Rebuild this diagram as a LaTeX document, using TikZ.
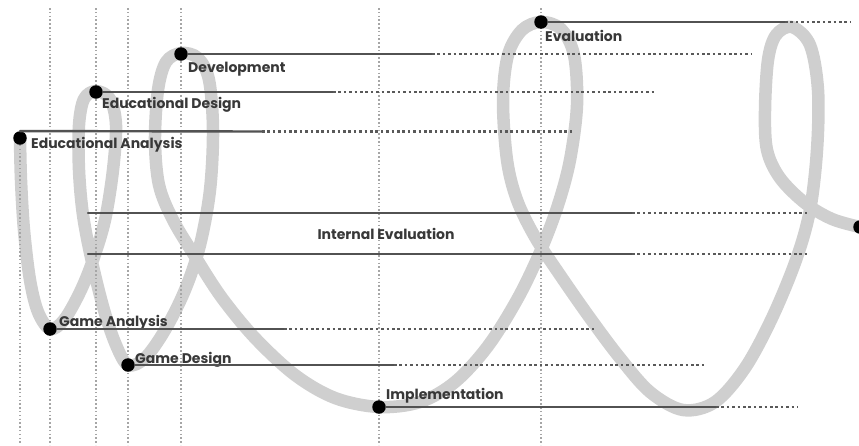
\documentclass[tikz,border=0pt]{standalone}
\usepackage{fontspec}
\setmainfont{Poppins}
\usetikzlibrary{backgrounds}

\tikzset{
  dot/.style={circle,fill=black,inner sep=0pt,minimum size=13.5pt},
  lbl/.style={font=\bfseries\fontsize{14}{16}\selectfont,text=black!78,inner sep=0pt,anchor=base west},
  solidline/.style={draw=black!68,line width=2.4pt},
  dotline/.style={draw=black!65,line width=2.6pt,line cap=butt,dash pattern=on 2.6pt off 2.8pt},
  guide/.style={draw=black!35,line width=1.5pt,line cap=butt,dash pattern=on 1.5pt off 2.3pt},
  ribbon/.style={draw=black!19,line width=12.5pt,line cap=round,line join=round}
}

\begin{document}
\begin{tikzpicture}[x=1pt,y=-1pt,line cap=round,line join=round]
\useasboundingbox (0,0) rectangle (859,445);

% stages along the ribbon
\node[dot] (ea) at (20,138) {};
\node[dot] (ga) at (50,329) {};
\node[dot] (ed) at (96,92) {};
\node[dot] (gd) at (128,365) {};
\node[dot] (dev) at (181,54) {};
\node[dot] (impl) at (379,407) {};
\node[dot] (eval) at (541,22) {};
\node[dot] (fin) at (860,227) {};

\node[lbl] (ea-l) at (31,148) {Educational Analysis};
\node[lbl] (ed-l) at (102,108) {Educational Design};
\node[lbl] (dev-l) at (188,72) {Development};
\node[lbl] (eval-l) at (545,41) {Evaluation};
\node[lbl] (ga-l) at (59,326) {Game Analysis};
\node[lbl] (gd-l) at (135,363) {Game Design};
\node[lbl] (impl-l) at (386,399) {Implementation};
\node[lbl,anchor=base] (ie-l) at (386,239) {Internal Evaluation};

% where the solid part stops and the dots end
\coordinate (eval-s) at (785,22);  \coordinate (eval-e) at (851,22);
\coordinate (dev-s) at (432,54);   \coordinate (dev-e) at (752,54);
\coordinate (ed-s) at (333,92);    \coordinate (ed-e) at (655,92);
\coordinate (ea-s) at (262,131.5); \coordinate (ea-e) at (574,131.5);
\coordinate (ie1-a) at (88,213);   \coordinate (ie1-s) at (632,213); \coordinate (ie1-e) at (808,213);
\coordinate (ie2-a) at (88,254);   \coordinate (ie2-s) at (632,254); \coordinate (ie2-e) at (808,254);
\coordinate (ga-s) at (284,329);   \coordinate (ga-e) at (597,329);
\coordinate (gd-s) at (394,365);   \coordinate (gd-e) at (707,365);
\coordinate (impl-s) at (716,407); \coordinate (impl-e) at (798,407);

\coordinate (top) at (0,8);
\coordinate (bot) at (0,445);

\draw[solidline] (eval) -- (eval-s);  \draw[dotline] (eval-s) -- (eval-e);
\draw[solidline] (dev) -- (dev-s);    \draw[dotline] (dev-s) -- (dev-e);
\draw[solidline] (ed) -- (ed-s);      \draw[dotline] (ed-s) -- (ed-e);
\draw[solidline] (ea.north) -- (ea-s); \draw[dotline] (ea-s) -- (ea-e);
\draw[solidline] (ie1-a) -- (ie1-s);  \draw[dotline] (ie1-s) -- (ie1-e);
\draw[solidline] (ie2-a) -- (ie2-s);  \draw[dotline] (ie2-s) -- (ie2-e);
\draw[solidline] (ga) -- (ga-s);      \draw[dotline] (ga-s) -- (ga-e);
\draw[solidline] (gd) -- (gd-s);      \draw[dotline] (gd-s) -- (gd-e);
\draw[solidline] (impl) -- (impl-s);  \draw[dotline] (impl-s) -- (impl-e);

\begin{scope}[on background layer]
% the ribbon, loop after loop
\draw[ribbon] plot[smooth,tension=0.55] coordinates {
  (20,138) (21,180) (24,230) (30,280) (38,312) (50,329)
  (64,320) (80,292) (93,260) (105,220) (113,170) (116,125) (110,99) (96,91)
  (84,99) (79,125) (79,170) (83,215) (92,262) (104,310) (116,345) (128,365)
  (145,358) (165,330) (185,290) (200,245) (210,190) (213,130) (209,80) (198,58) (181,53)
  (166,62) (158,90) (155,140) (159,185) (173,220) (196,258) (222,298) (255,338) (295,375) (335,398) (379,407)
  (420,402) (455,382) (488,346) (518,298) (541,250) (558,205) (570,160) (577,105) (574,55) (561,29) (541,22)
  (522,30) (508,55) (503,100) (507,160) (517,200) (535,237) (560,275) (590,318) (620,358) (650,392) (683,410)
  (715,402) (745,368) (772,318) (796,260) (810,210) (817,150) (818,90) (810,45) (792,27)
  (776,35) (768,60) (765,110) (767,150) (780,178) (805,203) (832,219) (860,227)};
% vertical guides
\draw[guide] (ea) -- (ea |- bot);
\foreach \s in {ga,ed,gd,dev,impl,eval}
  \draw[guide] (\s |- top) -- (\s |- bot);
\end{scope}
\end{tikzpicture}
\end{document}
